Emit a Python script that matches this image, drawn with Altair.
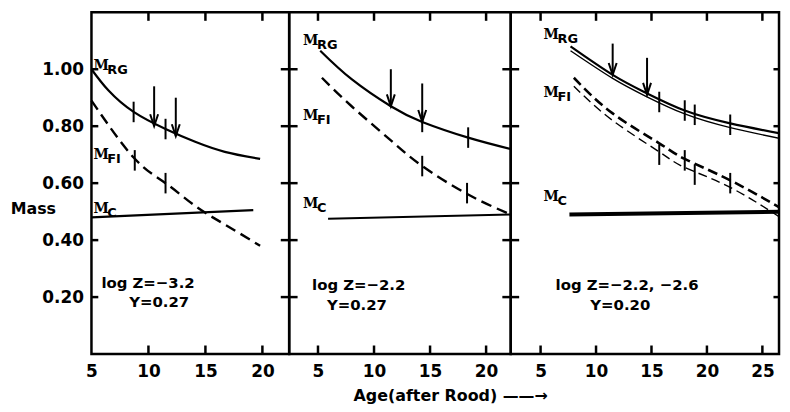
import altair as alt
import pandas as pd

# ---------------- data ----------------
# Panel 1 : log Z = -3.2 , Y = 0.27
p1_rg_age = [5.0, 6.5, 8.7, 11.5, 14.1, 16.7, 19.8]
p1_rg_mass = [1.00, 0.925, 0.85, 0.79, 0.745, 0.71, 0.685]
p1_fi_age = [5.0, 8.7, 11.5, 14.1, 16.7, 19.8]
p1_fi_mass = [0.89, 0.69, 0.60, 0.52, 0.455, 0.38]
p1_c_age = [5.0, 19.2]
p1_c_mass = [0.48, 0.505]
p1_mark_age = [8.7, 11.5, 8.8, 11.5]
p1_mark_mass = [0.85, 0.79, 0.68, 0.60]
p1_arrow_age = [10.5, 12.4]
p1_arrow_top = [0.94, 0.90]
p1_arrow_tip = [0.80, 0.765]

# Panel 2 : log Z = -2.2 , Y = 0.27
p2_rg_age = [5.2, 8.0, 11.5, 14.3, 18.4, 22.2]
p2_rg_mass = [1.065, 0.965, 0.87, 0.815, 0.76, 0.72]
p2_fi_age = [5.35, 8.0, 11.5, 14.3, 18.4, 22.2]
p2_fi_mass = [0.97, 0.87, 0.75, 0.66, 0.56, 0.49]
p2_c_age = [5.9, 22.2]
p2_c_mass = [0.475, 0.49]
p2_mark_age = [14.3, 18.4, 14.3, 18.3]
p2_mark_mass = [0.815, 0.76, 0.66, 0.565]
p2_arrow_age = [11.5, 14.3]
p2_arrow_top = [1.00, 0.95]
p2_arrow_tip = [0.87, 0.815]

# Panel 3 : log Z = -2.2, -2.6 , Y = 0.20
p3_rg_age = [7.7, 11.5, 14.5, 18.0, 22.1, 27.2]
p3_rg_mass_a = [1.08, 0.98, 0.917, 0.855, 0.81, 0.77]
p3_rg_mass_b = [1.065, 0.968, 0.905, 0.843, 0.795, 0.752]
p3_fi_age = [8.0, 11.5, 15.7, 18.0, 22.1, 27.2]
p3_fi_mass_a = [0.97, 0.845, 0.74, 0.685, 0.61, 0.50]
p3_fi_mass_b = [0.94, 0.82, 0.71, 0.655, 0.585, 0.465]
p3_c_age = [7.6, 27.2]
p3_c_mass = [0.49, 0.50]
p3_mark_age = [15.7, 18.0, 18.9, 22.1, 15.7, 18.0, 18.9, 22.1]
p3_mark_mass = [0.885, 0.855, 0.84, 0.805, 0.70, 0.68, 0.63, 0.60]
p3_arrow_age = [11.5, 14.6]
p3_arrow_top = [1.09, 1.04]
p3_arrow_tip = [0.98, 0.91]

# curve labels (M + subscript) and annotations
p1_lab_age = [5.17, 5.17, 5.17]
p1_lab_mass = [1.01, 0.70, 0.51]
p2_lab_age = [3.67, 3.67, 3.67]
p2_lab_mass = [1.10, 0.835, 0.525]
p3_lab_age = [5.27, 5.27, 5.27]
p3_lab_mass = [1.12, 0.917, 0.55]
lab_subs = ["RG", "FI", "C"]

p1_note = ["log Z=\u22123.2", "Y=0.27"]
p1_note_age = [5.87, 8.31]
p1_note_mass = [0.248, 0.183]
p2_note = ["log Z=\u22122.2", "Y=0.27"]
p2_note_age = [4.47, 5.8]
p2_note_mass = [0.241, 0.172]
p3_note = ["log  Z=\u22122.2, \u22122.6", "Y=0.20"]
p3_note_age = [6.35, 9.48]
p3_note_mass = [0.241, 0.172]

y_ticks = [0.2, 0.4, 0.6, 0.8, 1.0]
p1_xlabels = [5, 10, 15, 20]
p1_xticks = [10, 15, 20]
p2_xticks = [5, 10, 15, 20]
p3_xticks = [5, 10, 15, 20, 25]

Y_DOM = [0, 1.2]
FONT = "DejaVu Sans"


def X(field, dom, axis):
    return alt.X(field, type="quantitative",
                 scale=alt.Scale(domain=dom, nice=False, zero=False), axis=axis)


def Y(field, axis):
    return alt.Y(field, type="quantitative",
                 scale=alt.Scale(domain=Y_DOM, nice=False, zero=False), axis=axis)


def x_axis(values, title=None):
    kw = dict(values=values, format="d", labelPadding=10, labelFontSize=17,
              labelFont=FONT, labelFontWeight="bold", labelColor="black",
              labelFlush=False, domain=False, ticks=False, grid=False)
    if title:
        kw.update(title=title, titleX=162, titleY=42, titleAlign="center",
                  titleBaseline="middle", titleFont=FONT, titleFontSize=16,
                  titleFontWeight="bold", titleColor="black")
    else:
        kw.update(title=None)
    return alt.Axis(**kw)


y_axis_main = alt.Axis(values=y_ticks, format=".2f", labelPadding=8, labelFontSize=17,
                       labelFont=FONT, labelFontWeight="bold", labelColor="black",
                       domain=False, ticks=False, grid=False,
                       title="Mass", titleAngle=0, titleX=-59, titleY=198,
                       titleAlign="center", titleBaseline="middle", titleFont=FONT,
                       titleFontSize=16, titleFontWeight="bold", titleColor="black")


def build_panel(dom, width, xa, ya, curves, marks, arrows, labels, notes,
                xticks, yticks_left, yticks_right, clip=False):
    layers = []
    for age, mass, style in curves:
        df = pd.DataFrame({"a": age, "v": mass})
        layers.append(alt.Chart(df).mark_line(color="black", interpolate="natural",
                                              clip=clip, **style)
                      .encode(x=X("a", dom, xa), y=Y("v", ya)))
    # short vertical marks on curves
    m_age, m_mass = marks
    dfm = pd.DataFrame({"a": m_age, "v": m_mass})
    layers.append(alt.Chart(dfm).transform_calculate(lo="datum.v - 0.036", hi="datum.v + 0.036")
                  .mark_rule(color="black", strokeWidth=2)
                  .encode(x=X("a", dom, xa), y=Y("lo:Q", ya), y2="hi:Q"))
    # arrows
    a_age, a_top, a_tip = arrows
    dfa = pd.DataFrame({"a": a_age, "top": a_top, "tip": a_tip})
    layers.append(alt.Chart(dfa).mark_rule(color="black", strokeWidth=2)
                  .encode(x=X("a", dom, xa), y=Y("top", ya), y2="tip:Q"))
    layers.append(alt.Chart(dfa).mark_point(shape="M-1,-3L0,0L1,-3", size=64, filled=False,
                                            color="black", strokeWidth=2, opacity=1)
                  .encode(x=X("a", dom, xa), y=Y("tip", ya)))
    # curve labels
    l_age, l_mass = labels
    dfl = pd.DataFrame({"a": l_age, "v": l_mass, "sub": lab_subs})
    layers.append(alt.Chart(dfl).mark_text(text="M", align="left", baseline="middle",
                                           font="DejaVu Serif", fontWeight="bold",
                                           fontSize=14, color="black")
                  .encode(x=X("a", dom, xa), y=Y("v", ya)))
    layers.append(alt.Chart(dfl).mark_text(align="left", baseline="middle", dx=14, dy=4,
                                           font=FONT, fontWeight="bold", fontSize=13,
                                           color="black")
                  .encode(x=X("a", dom, xa), y=Y("v", ya), text="sub:N"))
    # annotations
    n_txt, n_age, n_mass = notes
    dfn = pd.DataFrame({"a": n_age, "v": n_mass, "t": n_txt})
    layers.append(alt.Chart(dfn).mark_text(align="left", baseline="middle", font=FONT,
                                           fontWeight="bold", fontSize=15, color="black")
                  .encode(x=X("a", dom, xa), y=Y("v", ya), text="t:N"))
    # frame ticks: top and bottom
    dft = pd.DataFrame({"a": xticks})
    layers.append(alt.Chart(dft).transform_calculate(lo="1.2 - 0.03", hi="1.2")
                  .mark_rule(color="black", strokeWidth=2.5)
                  .encode(x=X("a", dom, xa), y=Y("lo:Q", ya), y2="hi:Q"))
    layers.append(alt.Chart(dft).transform_calculate(lo="0", hi="0.03")
                  .mark_rule(color="black", strokeWidth=2.5)
                  .encode(x=X("a", dom, xa), y=Y("lo:Q", ya), y2="hi:Q"))
    # frame ticks: left / right sides
    for (d_lo, d_hi) in (yticks_left, yticks_right):
        if d_lo is None:
            continue
        dfy = pd.DataFrame({"v": y_ticks})
        layers.append(alt.Chart(dfy).transform_calculate(a1=str(d_lo), a2=str(d_hi))
                      .mark_rule(color="black", strokeWidth=2.5)
                      .encode(x=X("a1:Q", dom, xa), x2="a2:Q", y=Y("v", ya)))
    return alt.layer(*layers).properties(width=width, height=344)


solid = dict(strokeWidth=2.2)
dashed = dict(strokeWidth=2.4, strokeDash=[11, 6])

dom1 = [5.0, 22.35]
dom2 = [2.43, 22.2]
dom3 = [2.31, 26.5]

panel1 = build_panel(
    dom1, 199, x_axis(p1_xlabels), y_axis_main,
    [(p1_rg_age, p1_rg_mass, solid), (p1_fi_age, p1_fi_mass, dashed),
     (p1_c_age, p1_c_mass, solid)],
    (p1_mark_age, p1_mark_mass), (p1_arrow_age, p1_arrow_top, p1_arrow_tip),
    (p1_lab_age, p1_lab_mass), (p1_note, p1_note_age, p1_note_mass),
    p1_xticks, (5.0, 5.6), (None, None))

panel2 = build_panel(
    dom2, 223, x_axis(p2_xticks, "Age(after Rood) \u2014\u2014\u2192"), None,
    [(p2_rg_age, p2_rg_mass, solid), (p2_fi_age, p2_fi_mass, dashed),
     (p2_c_age, p2_c_mass, solid)],
    (p2_mark_age, p2_mark_mass), (p2_arrow_age, p2_arrow_top, p2_arrow_tip),
    (p2_lab_age, p2_lab_mass), (p2_note, p2_note_age, p2_note_mass),
    p2_xticks, (2.43 - 0.75, 2.43 + 0.75), (22.2 - 0.75, 22.2 + 0.75))

panel3 = build_panel(
    dom3, 270, x_axis(p3_xticks), None,
    [(p3_rg_age, p3_rg_mass_a, dict(strokeWidth=2.2)),
     (p3_rg_age, p3_rg_mass_b, dict(strokeWidth=1.4)),
     (p3_fi_age, p3_fi_mass_a, dict(strokeWidth=2.6, strokeDash=[10, 5])),
     (p3_fi_age, p3_fi_mass_b, dict(strokeWidth=1.4, strokeDash=[9, 5])),
     (p3_c_age, p3_c_mass, dict(strokeWidth=4))],
    (p3_mark_age, p3_mark_mass), (p3_arrow_age, p3_arrow_top, p3_arrow_tip),
    (p3_lab_age, p3_lab_mass), (p3_note, p3_note_age, p3_note_mass),
    p3_xticks, (None, None), (26.5 - 0.5, 26.5), clip=True)

chart = (alt.hconcat(panel1, panel2, panel3, spacing=0, bounds="flush", padding=0,
                     background="white")
         .configure_view(stroke="black", strokeWidth=2.5))

chart.save("out.html", embed_options={"renderer": "svg", "actions": False})
